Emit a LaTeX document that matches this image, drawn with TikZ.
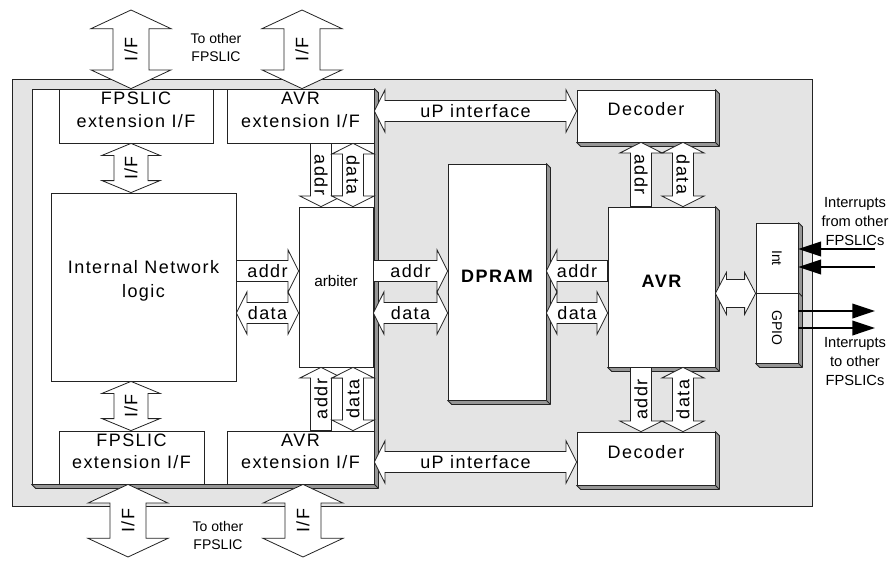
\documentclass[tikz,border=0pt]{standalone}
\usepackage{fontspec}
\setmainfont{Liberation Sans}
\newfontfamily\spacedsf{Liberation Sans}[LetterSpace=8]
\usetikzlibrary{arrows.meta, positioning, calc, fit}
\definecolor{panelgray}{RGB}{228,228,228}
\definecolor{bevelgray}{RGB}{150,150,150}
\definecolor{inkline}{RGB}{35,35,35}

% fat bus arrows between two points
\tikzset{
  bus shaft/.store in=\bshaft, bus head/.store in=\bhead,
  bus tip/.store in=\btip, bus rot/.store in=\brot,
  bus shaft=7.9pt, bus head=15.75pt, bus tip=7.9pt, bus rot=0,
}
\newcommand\busone[4][]{%
  \begin{scope}[#1]
    \coordinate (bs) at (#2);
    \coordinate (bt) at (#3);
    \coordinate (bb) at ($(bt)!\btip!(bs)$);
    \draw[busline] ($(bs)!\bshaft!90:(bt)$) -- ($(bb)!\bshaft!90:(bt)$)
      -- ($(bb)!\bhead!90:(bt)$) -- (bt) -- ($(bb)!\bhead!-90:(bt)$)
      -- ($(bb)!\bshaft!-90:(bt)$) -- ($(bs)!\bshaft!-90:(bt)$) -- cycle;
    \node[buslbl, rotate=\brot] at ($(bs)!0.5!(bt)$) {#4};
  \end{scope}}
\newcommand\bustwo[4][]{%
  \begin{scope}[#1]
    \coordinate (bs) at (#2);
    \coordinate (bt) at (#3);
    \coordinate (ba) at ($(bs)!\btip!(bt)$);
    \coordinate (bb) at ($(bt)!\btip!(bs)$);
    \draw[busline] (bs) -- ($(ba)!\bhead!90:(bt)$) -- ($(ba)!\bshaft!90:(bt)$)
      -- ($(bb)!\bshaft!90:(bt)$) -- ($(bb)!\bhead!90:(bt)$) -- (bt)
      -- ($(bb)!\bhead!-90:(bt)$) -- ($(bb)!\bshaft!-90:(bt)$)
      -- ($(ba)!\bshaft!-90:(bt)$) -- ($(ba)!\bhead!-90:(bt)$) -- cycle;
    \node[buslbl, rotate=\brot] at ($(bs)!0.5!(bt)$) {#4};
  \end{scope}}
% raised edge on the right and bottom of a box
\newcommand\boxbevel[1]{%
  \draw[bevel] (#1.north east) -- ++(4,4) -- ($(#1.south east)+(4,4)$)
    -- ($(#1.south west)+(4,4)$) -- (#1.south west) -- (#1.south east) -- cycle;
  \draw[bevel] (#1.south east) -- ++(4,4);}

\begin{document}
\begin{tikzpicture}[x=0.75pt, y=-0.75pt,
    box/.style={draw=inkline, fill=white, line width=0.6pt, inner sep=0pt,
                align=center, font=\spacedsf\fontsize{13.5}{17}\selectfont},
    bevel/.style={draw=inkline, fill=bevelgray, line width=0.6pt, line join=round},
    busline/.style={draw=inkline, fill=white, line width=0.6pt, line join=miter},
    buslbl/.style={font=\spacedsf\fontsize{13.5}{16}\selectfont, inner sep=0pt},
    wide bus/.style={bus shaft=13.5pt, bus head=30pt, bus tip=14pt},
    if bus/.style={bus shaft=12.75pt, bus head=21.75pt, bus tip=9pt},
    irq/.style={line width=1.2pt, -{Triangle[length=17pt, width=11pt]}},
    note/.style={align=center, font=\fontsize{10.5}{13.5}\selectfont}
]
\useasboundingbox (0,0) rectangle (890,561);

% chip and FPGA fabric
\node[draw=inkline, fill=panelgray, line width=0.6pt, inner sep=0pt,
      fit={(12,79) (812,506)}] (chip) {};
\node[box, fit={(32,89) (374,484)}] (fabric) {};
\boxbevel{fabric}

\node[box, fit={(59,89) (213,143)}]   (fpsup) {FPSLIC\\extension I/F};
\node[box, fit={(227,89) (374,143)}]  (avrup) {AVR\\extension I/F};
\node[box, fit={(59,431) (204,484)}]  (fpsdn) {FPSLIC\\extension I/F};
\node[box, fit={(227,431) (374,484)}] (avrdn) {AVR\\extension I/F};
\node[box, fit={(51,193) (236,381)},
      font=\spacedsf\fontsize{13.5}{18}\selectfont] (inl) {Internal Network\\logic};
\node[box, fit={(299,207) (373,367)}, font=\fontsize{11.5}{14}\selectfont] (arb) {arbiter};

% microcontroller side
\node[box, fit={(448,164) (546,400)},
      font=\spacedsf\bfseries\fontsize{13.5}{17}\selectfont] (dpram) {DPRAM};
\boxbevel{dpram}
\node[box, fit={(608,207) (715,367)},
      font=\spacedsf\bfseries\fontsize{13.5}{17}\selectfont] (avr) {AVR};
\boxbevel{avr}
\node[box, fit={(577,90) (715,142)}]  (decup) {Decoder};
\boxbevel{decup}
\node[box, fit={(577,432) (715,485)}] (decdn) {Decoder};
\boxbevel{decdn}
\node[box, fit={(756,223) (798,293)}] (int) {};
\boxbevel{int}
\node[box, fit={(756,293) (798,363)}] (gpio) {};
\boxbevel{gpio}
\node[rotate=-90, font=\fontsize{10.5}{12}\selectfont] at (int.center)  {Int};
\node[rotate=-90, font=\fontsize{10.5}{12}\selectfont] at (gpio.center) {GPIO};

% bus rows and columns
\coordinate (addrrow)  at (0,271);
\coordinate (datarow)  at (0,313);
\coordinate (uprow)    at (0,111);
\coordinate (dnrow)    at (0,462);
\coordinate (addrcol)  at (321,0);
\coordinate (datacol)  at (353,0);
\coordinate (daddrcol) at (641,0);
\coordinate (ddatacol) at (683,0);
\coordinate (ifcol)    at (131,0);
\coordinate (linkTL)   at (131,10);
\coordinate (linkTR)   at (302,10);
\coordinate (linkBL)   at (128,557);
\coordinate (linkBR)   at (303,557);

% links to other FPSLICs
\bustwo[wide bus, bus rot=90]{linkTL}{linkTL |- fpsup.north}{I/F}
\bustwo[wide bus, bus rot=90]{linkTR}{linkTR |- avrup.north}{I/F}
\bustwo[wide bus, bus rot=90]{linkBL}{linkBL |- fpsdn.south}{I/F}
\bustwo[wide bus, bus rot=90]{linkBR}{linkBR |- avrdn.south}{I/F}
\node[note] at (216,47)  {To other\\FPSLIC};
\node[note] at (218,535) {To other\\FPSLIC};

% fabric buses
\bustwo[if bus, bus rot=90]{fpsup.south -| ifcol}{inl.north -| ifcol}{I/F}
\bustwo[if bus, bus rot=90]{inl.south -| ifcol}{fpsdn.north -| ifcol}{I/F}
\busone[bus rot=-90]{avrup.south -| addrcol}{arb.north -| addrcol}{addr}
\bustwo[bus rot=-90]{avrup.south -| datacol}{arb.north -| datacol}{data}
\busone[bus rot=90]{avrdn.north -| addrcol}{arb.south -| addrcol}{addr}
\bustwo[bus rot=90]{avrdn.north -| datacol}{arb.south -| datacol}{data}
\busone{inl.east |- addrrow}{arb.west |- addrrow}{addr}
\bustwo{inl.east |- datarow}{arb.west |- datarow}{data}

% DPRAM, AVR and decoders
\busone{arb.east |- addrrow}{dpram.west |- addrrow}{addr}
\bustwo{arb.east |- datarow}{dpram.west |- datarow}{data}
\busone{avr.west |- addrrow}{dpram.east |- addrrow}{addr}
\bustwo{dpram.east |- datarow}{avr.west |- datarow}{data}
\bustwo{avrup.east |- uprow}{decup.west |- uprow}{uP interface}
\bustwo{avrdn.east |- dnrow}{decdn.west |- dnrow}{uP interface}
\busone[bus rot=-90]{avr.north -| daddrcol}{decup.south -| daddrcol}{addr}
\bustwo[bus rot=-90]{decup.south -| ddatacol}{avr.north -| ddatacol}{data}
\busone[bus rot=90]{avr.south -| daddrcol}{decdn.north -| daddrcol}{addr}
\bustwo[bus rot=90]{avr.south -| ddatacol}{decdn.north -| ddatacol}{data}
\bustwo[bus shaft=10.5pt, bus tip=8.25pt]{avr.east |- int.south}{int.south west}{}

% interrupt lines
\coordinate (irqin1)  at (875,249);
\coordinate (irqin2)  at (875,267);
\coordinate (irqout1) at (875,311);
\coordinate (irqout2) at (875,328);
\draw[irq] (irqin1) -- (int.east |- irqin1);
\draw[irq] (irqin2) -- (int.east |- irqin2);
\draw[irq] (gpio.east |- irqout1) -- (irqout1);
\draw[irq] (gpio.east |- irqout2) -- (irqout2);
\node[note, font=\fontsize{11}{14.25}\selectfont] at (855,222) {Interrupts\\from other\\FPSLICs};
\node[note, font=\fontsize{11}{14.25}\selectfont] at (855,362) {Interrupts\\to other\\FPSLICs};

\end{tikzpicture}
\end{document}
